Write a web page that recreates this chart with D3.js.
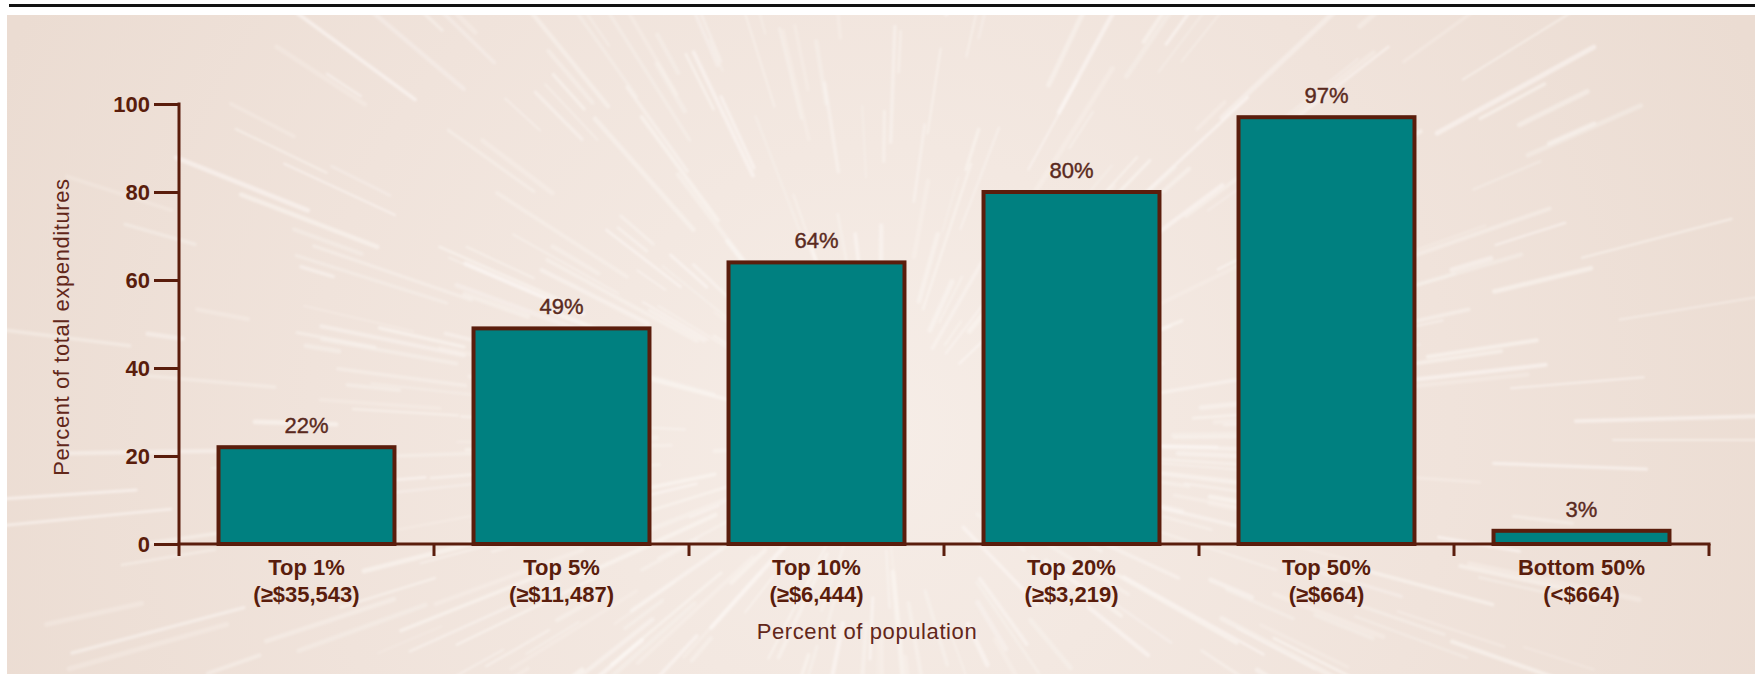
<!DOCTYPE html>
<html>
<head>
<meta charset="utf-8">
<script src="https://cdn.jsdelivr.net/npm/d3@7"></script>
<style>
  html, body { margin: 0; padding: 0; background: #fff; }
  svg { display: block; }
  text { font-family: "Liberation Sans", Arial, sans-serif; }
</style>
</head>
<body>
<div id="chart"></div>
<script>
// data
const categories = ["Top 1%", "Top 5%", "Top 10%", "Top 20%", "Top 50%", "Bottom 50%"];
const thresholds = ["(\u2265$35,543)", "(\u2265$11,487)", "(\u2265$6,444)", "(\u2265$3,219)", "(\u2265$664)", "(<$664)"];
const shares = [22, 49, 64, 80, 97, 3];
const yTicks = [0, 20, 40, 60, 80, 100];

const W = 1755, H = 674;
const margin = { top: 104, right: 46, bottom: 130, left: 179 };
const brown = "#5a1d0c";
const teal = "#008080";

const svg = d3.select("#chart")
    .append("svg")
    .attr("width", W)
    .attr("height", H);

// top rule
svg.append("line")
    .attr("x1", 9).attr("x2", W)
    .attr("y1", 5.5).attr("y2", 5.5)
    .attr("stroke", "#111").attr("stroke-width", 3);

// background panel
const defs = svg.append("defs");
const grad = defs.append("radialGradient")
    .attr("id", "bg")
    .attr("gradientUnits", "userSpaceOnUse")
    .attr("cx", 880).attr("cy", 430).attr("r", 950);
grad.append("stop").attr("offset", "0%").attr("stop-color", "#f6ede7");
grad.append("stop").attr("offset", "60%").attr("stop-color", "#f0e3db");
grad.append("stop").attr("offset", "100%").attr("stop-color", "#ebdcd2");

defs.append("clipPath").attr("id", "panel")
    .append("rect").attr("x", 7).attr("y", 15).attr("width", W - 7).attr("height", H - 15);
defs.append("filter").attr("id", "soft")
    .append("feGaussianBlur").attr("stdDeviation", 1.2);

svg.append("rect")
    .attr("x", 7).attr("y", 15)
    .attr("width", W - 7).attr("height", H - 15)
    .attr("fill", "url(#bg)");

// light streak texture radiating from the middle
const hash = i => { const s = Math.sin(i * 12.9898) * 43758.5453; return s - Math.floor(s); };
const burst = { x: 880, y: 440 };
const streaks = d3.range(520).map(i => {
    const a = (i / 520) * Math.PI * 2 + hash(i) * 0.02;
    const r0 = 120 + hash(i + 1000) * 650;
    const len = 30 + hash(i + 2000) * 160;
    return {
        x1: burst.x + Math.cos(a) * r0,
        y1: burst.y + Math.sin(a) * r0 * 0.8,
        x2: burst.x + Math.cos(a) * (r0 + len),
        y2: burst.y + Math.sin(a) * (r0 + len) * 0.8,
        w: 1.5 + hash(i + 3000) * 3.5,
        o: 0.2 + hash(i + 4000) * 0.35
    };
});
svg.append("g")
    .attr("clip-path", "url(#panel)")
    .attr("filter", "url(#soft)")
    .selectAll("line")
    .data(streaks)
    .join("line")
    .attr("x1", d => d.x1).attr("y1", d => d.y1)
    .attr("x2", d => d.x2).attr("y2", d => d.y2)
    .attr("stroke", "#fdfaf7")
    .attr("stroke-width", d => d.w)
    .attr("stroke-linecap", "round")
    .attr("stroke-opacity", d => d.o);

// scales
const x = d3.scaleBand()
    .domain(categories)
    .range([margin.left, W - margin.right])
    .padding(0);
const y = d3.scaleLinear()
    .domain([0, 100])
    .range([H - margin.bottom, margin.top]);

const barW = x.bandwidth() * 0.69;
const g = svg.append("g");

// Bars
g.selectAll(".bar")
    .data(shares)
    .join("rect")
    .attr("class", "bar")
    .attr("x", (d, i) => x(categories[i]) + (x.bandwidth() - barW) / 2)
    .attr("y", d => y(d))
    .attr("width", barW)
    .attr("height", d => y(0) - y(d))
    .attr("fill", teal)
    .attr("stroke", brown)
    .attr("stroke-width", 4);

// Value labels
g.selectAll(".val")
    .data(shares)
    .join("text")
    .attr("class", "val")
    .attr("x", (d, i) => x(categories[i]) + x.bandwidth() / 2)
    .attr("y", d => y(d) - 14)
    .attr("text-anchor", "middle")
    .attr("font-size", 22)
    .attr("fill", "#5a2a1e")
    .attr("stroke", "#5a2a1e")
    .attr("stroke-width", 0.4)
    .text(d => d + "%");

// Y axis
const yAxis = g.append("g")
    .attr("transform", `translate(${margin.left},0)`)
    .call(d3.axisLeft(y).tickValues(yTicks).tickSize(25).tickPadding(4));
yAxis.select(".domain").remove();
yAxis.selectAll(".tick line").attr("stroke", brown).attr("stroke-width", 3);
yAxis.selectAll(".tick text")
    .attr("font-family", "Liberation Sans, Arial, sans-serif")
    .attr("font-size", 22)
    .attr("font-weight", "bold")
    .attr("fill", brown);
g.append("line")
    .attr("x1", margin.left).attr("x2", margin.left)
    .attr("y1", y(100) - 1.5).attr("y2", y(0))
    .attr("stroke", brown).attr("stroke-width", 3);

// X axis with ticks at category boundaries
const bounds = categories.map(c => x(c)).concat([W - margin.right]);
g.append("line")
    .attr("x1", margin.left - 1.5).attr("x2", W - margin.right + 1.5)
    .attr("y1", y(0)).attr("y2", y(0))
    .attr("stroke", brown).attr("stroke-width", 3);
g.selectAll(".xtick")
    .data(bounds)
    .join("line")
    .attr("class", "xtick")
    .attr("x1", d => d).attr("x2", d => d)
    .attr("y1", y(0)).attr("y2", y(0) + 12)
    .attr("stroke", brown).attr("stroke-width", 3);

// Category labels
const xl = g.selectAll(".xlab")
    .data(categories)
    .join("text")
    .attr("class", "xlab")
    .attr("text-anchor", "middle")
    .attr("font-size", 22)
    .attr("font-weight", "bold")
    .attr("fill", brown);
xl.append("tspan")
    .attr("x", d => x(d) + x.bandwidth() / 2)
    .attr("y", y(0) + 31)
    .text(d => d);
xl.append("tspan")
    .attr("x", d => x(d) + x.bandwidth() / 2)
    .attr("y", y(0) + 58)
    .text((d, i) => thresholds[i]);

// Axis titles
g.append("text")
    .attr("x", 867)
    .attr("y", y(0) + 95)
    .attr("text-anchor", "middle")
    .attr("font-size", 22)
    .attr("letter-spacing", 0.6)
    .attr("fill", "#62271a")
    .text("Percent of population");

g.append("text")
    .attr("transform", `translate(69,${(y(0) + y(100)) / 2 + 3}) rotate(-90)`)
    .attr("text-anchor", "middle")
    .attr("font-size", 22)
    .attr("letter-spacing", 0.6)
    .attr("fill", "#62271a")
    .text("Percent of total expenditures");
</script>
</body>
</html>
